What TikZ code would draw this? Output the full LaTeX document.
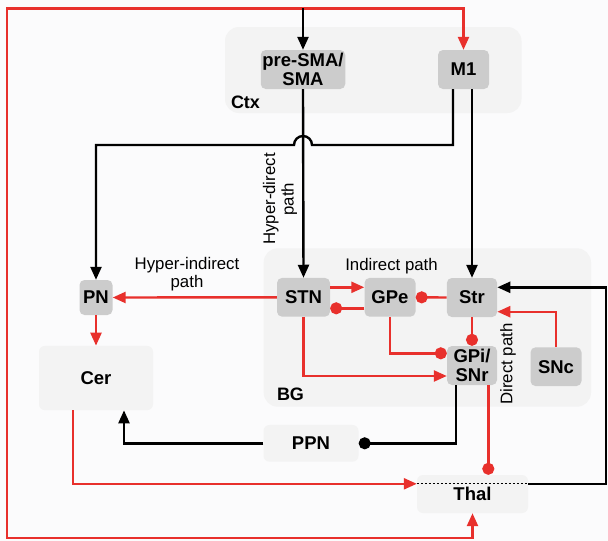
\documentclass[tikz,border=0pt]{standalone}
\usepackage{fontspec}
\setmainfont{Liberation Sans}
\usetikzlibrary{arrows.meta,calc}
\definecolor{lnred}{RGB}{232,48,44}
\definecolor{boxgray}{RGB}{204,204,204}
\definecolor{regiongray}{RGB}{243,243,243}
\definecolor{bgwhite}{RGB}{251,251,252}
\begin{document}
\begin{tikzpicture}[x=1pt,y=-1pt,
  nucleus/.style={fill=boxgray, rounded corners=5pt, inner sep=0pt, align=center,
    font=\fontsize{18.5}{19.5}\selectfont\bfseries},
  lightbox/.style={fill=regiongray, rounded corners=6pt, inner sep=0pt,
    font=\fontsize{18.5}{19.5}\selectfont\bfseries},
  region/.style={fill=regiongray, rounded corners=14pt, inner sep=0pt},
  regionlabel/.style={font=\fontsize{18}{18}\selectfont\bfseries, inner sep=0pt},
  pathlabel/.style={font=\fontsize{16.8}{18.5}\selectfont, align=center, inner sep=0pt},
  conn/.style={line width=2.4pt},
  excite/.style={conn, -{Triangle[length=13pt,width=11pt]}},
  inhib/.style={conn, -{Circle[length=12pt]}},
  redl/.style={draw=lnred},
  blackl/.style={draw=black}
]
\useasboundingbox (0,0) rectangle (608,541);
\fill[bgwhite] (0,0) rectangle (608,541);

% regions
\node[region, minimum width=296.5pt, minimum height=86pt] (ctx) at (373.25,70) {};
\node[region, minimum width=327.3pt, minimum height=158.4pt] (bg) at (427.35,327.5) {};
\node[regionlabel] (ctxlab) at (245.5,102) {Ctx};
\node[regionlabel] (bglab) at (290.5,394) {BG};

% nuclei
\node[nucleus, minimum width=84.5pt, minimum height=39pt] (pre) at (303,69.5) {pre-SMA/\\SMA};
\node[nucleus, minimum width=51pt, minimum height=39pt] (m1) at (463.5,69.5) {M1};
\node[nucleus, minimum width=33pt, minimum height=35pt] (pn) at (96,297.5) {PN};
\node[nucleus, minimum width=53pt, minimum height=38.7pt] (stn) at (303.5,297.3) {STN};
\node[nucleus, minimum width=51pt, minimum height=38.7pt] (gpe) at (390,297.3) {GPe};
\node[nucleus, minimum width=50.3pt, minimum height=39pt] (str) at (472,297.5) {Str};
\node[nucleus, minimum width=50pt, minimum height=39pt] (gpi) at (472,365.5) {GPi/\\SNr};
\node[nucleus, minimum width=51pt, minimum height=38.7pt] (snc) at (556,366.7) {SNc};
\node[lightbox, minimum width=114pt, minimum height=64.3pt] (cer) at (96,378) {Cer};
\node[lightbox, minimum width=95pt, minimum height=36.7pt] (ppn) at (311,443.3) {PPN};
\node[lightbox, minimum width=111pt, minimum height=38pt] (thal) at (472.5,494) {Thal};

% path labels
\node[pathlabel] (lhi) at (187,274) {Hyper-indirect\\path};
\node[pathlabel] (lind) at (391.5,266) {Indirect path};
\node[pathlabel, rotate=90] (lhd) at (280,199) {Hyper-direct\\path};
\node[pathlabel, rotate=90] (ldir) at (508,364) {Direct path};

% helper coordinates
\coordinate (tl) at (7,8.3);
\coordinate (bl) at (7,538);
\coordinate (topin) at (pre.north |- tl);
\coordinate (hop) at (pre.south |- 0,145);
\coordinate (m1l) at ($(m1.south)+(-10.5,0)$);
\coordinate (thalL) at ($(thal.north west)+(0,9)$);
\coordinate (thalR) at ($(thal.north east)+(0,9)$);
\coordinate (rightx) at (606,0);
\coordinate (gpiL) at ($(gpi.south)+(-16,0)$);
\coordinate (gpiR) at ($(gpi.south)+(16.3,0)$);
\coordinate (cerout) at ($(cer.south)+(-23,0)$);
\coordinate (cerin) at ($(cer.south)+(28,0)$);

% big red loop
\draw[conn, redl, {Triangle[length=13pt,width=11pt]}-{Triangle[length=13pt,width=11pt]}]
  (thal.south) |- (bl) -- (tl) -| (m1.north);
% black input to pre-SMA
\draw[excite, blackl] (topin) -- (pre.north);
% hyper-direct
\draw[excite, blackl] (pre.south) -- (stn.north);
% M1 -> PN with hop
\draw[excite, blackl] (m1l) |- ($(hop)+(9,0)$)
  .. controls +(0,-5) and +(5,0) .. ($(hop)+(0,-9)$)
  .. controls +(-5,0) and +(0,-5) .. ($(hop)+(-9,0)$) -| (pn.north);
% M1 -> Str
\draw[excite, blackl] (m1.south -| str.north) -- (str.north);

% BG internal
\draw[excite, redl] (stn.west) -- (pn.east);
\draw[excite, redl] (pn.south) -- (cer.north);
\draw[excite, redl] ($(stn.east)+(0,-10)$) -- ($(gpe.west)+(0,-10)$);
\draw[inhib, redl] ($(gpe.west)+(0,11)$) -- ($(stn.east)+(0,11)$);
\draw[inhib, redl] (str.west) -- (gpe.east);
\draw[inhib, redl] (str.south) -- (gpi.north);
\draw[inhib, redl] (gpe.south) |- ($(gpi.west)+(0,-12.2)$);
\draw[excite, redl] (stn.south) |- ($(gpi.west)+(0,10.5)$);
\draw[excite, redl] (snc.north) |- ($(str.east)+(0,14.2)$);

% outputs
\draw[inhib, blackl] (gpiL) |- (ppn.east);
\draw[excite, blackl] (ppn.west) -| (cerin);
\draw[inhib, redl] (gpiR) -- (gpiR |- thal.north);
\draw[excite, redl] (cerout) |- (thalL);
\draw[line width=1pt, dash pattern=on 2pt off 2pt] (thalL) -- (thalR);
\draw[excite, blackl] (thalR) -- (thalR -| rightx) |- ($(str.east)+(0,-10.2)$);
\end{tikzpicture}
\end{document}
